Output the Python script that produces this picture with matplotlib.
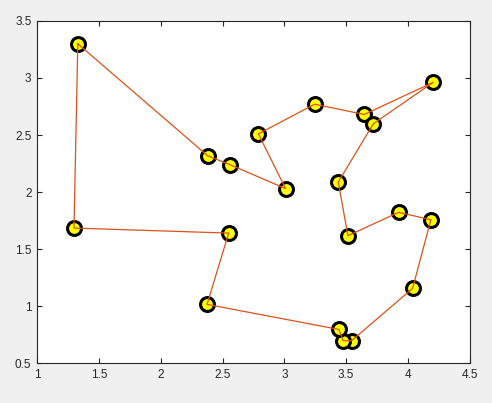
import matplotlib.pyplot as plt
import numpy as np

# tour through the points, in visiting order (closed loop)
x = [1.33, 2.38, 2.56, 3.01, 2.79, 3.245, 3.646, 4.204, 3.72, 3.436,
     3.514, 3.924, 4.185, 4.037, 3.543, 3.476, 3.441, 2.375, 2.55, 1.299]
y = [3.30, 2.318, 2.24, 2.03, 2.51, 2.77, 2.68, 2.962, 2.599, 2.088,
     1.617, 1.822, 1.757, 1.155, 0.696, 0.696, 0.795, 1.015, 1.64, 1.684]

xt = [1, 1.5, 2, 2.5, 3, 3.5, 4, 4.5]
yt = [0.5, 1, 1.5, 2, 2.5, 3, 3.5]

plt.rcParams['font.family'] = ['Liberation Sans', 'DejaVu Sans']

fig = plt.figure(figsize=(4.92, 4.03), dpi=100, facecolor='#f0f0f0')
ax = fig.add_axes([0.0752, 0.099, 0.8798, 0.849])

ax.plot(x, y, 'o', ms=10, mfc='#ffff00', mec='black', mew=2.2, zorder=2)
xs = np.append(x, x[0])
ys = np.append(y, y[0])
ax.plot(xs, ys, '-', color='#d95319', lw=0.9, zorder=3)

ax.set_xlim(1, 4.5)
ax.set_ylim(0.5, 3.5)
ax.set_xticks(xt)
ax.set_yticks(yt)
ax.set_xticklabels([f'{v:g}' for v in xt])
ax.set_yticklabels([f'{v:g}' for v in yt])
ax.tick_params(direction='in', top=True, right=True, length=3.5, width=0.8,
               labelsize=8.5, colors='#262626', pad=4)
for s in ax.spines.values():
    s.set_color('#262626')
    s.set_linewidth(0.8)

fig.savefig('out.png', dpi=100, facecolor=fig.get_facecolor())
